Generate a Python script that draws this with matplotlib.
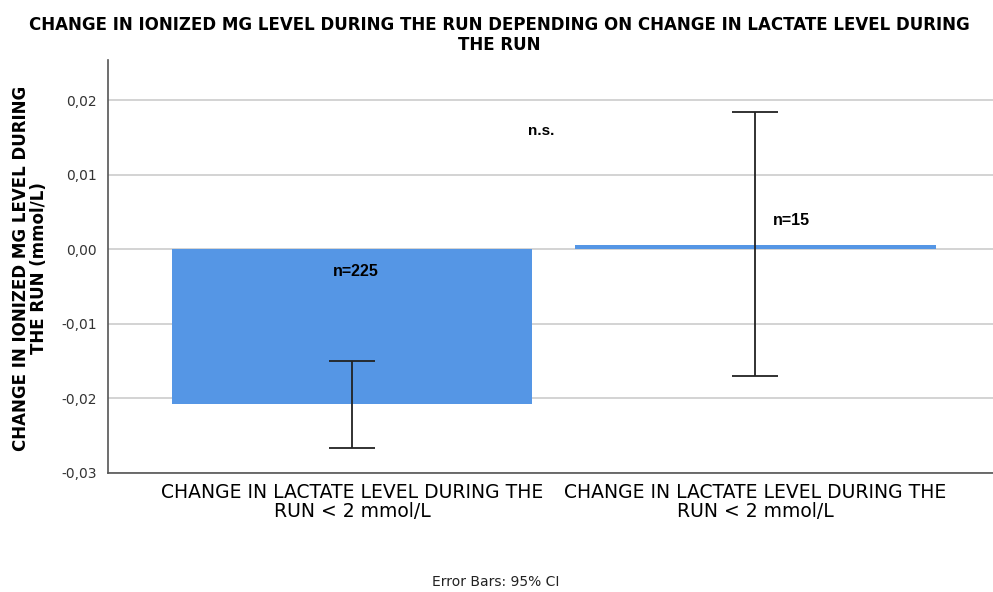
import matplotlib.pyplot as plt
from matplotlib.ticker import FuncFormatter

groups = ["CHANGE IN LACTATE LEVEL DURING THE\nRUN < 2 mmol/L",
          "CHANGE IN LACTATE LEVEL DURING THE\nRUN < 2 mmol/L"]
means = [-0.0208, 0.0006]
ci_low = [-0.0267, -0.0170]
ci_high = [-0.0150, 0.0184]
n_labels = ["n=225", "n=15"]
yticks = [-0.03, -0.02, -0.01, 0.00, 0.01, 0.02]

bar_color = "#5596e5"

fig = plt.figure(figsize=(9.93, 5.92), dpi=100)
ax = fig.add_axes([108/993, 1 - 473/592, (993 - 108)/993, (473 - 60)/592])

x = [0, 1]
ax.bar(x, means, width=0.895, color=bar_color, zorder=2)
err_lo = [m - lo for m, lo in zip(means, ci_low)]
err_hi = [hi - m for m, hi in zip(means, ci_high)]
ax.errorbar(x, means, yerr=[err_lo, err_hi], fmt="none", ecolor="#222222",
            elinewidth=1.3, capsize=16.5, capthick=1.3, zorder=3)

ax.set_xlim(-0.605, 1.59)
ax.set_ylim(-0.03, 0.0254)
ax.set_yticks(yticks)
ax.yaxis.set_major_formatter(FuncFormatter(lambda v, p: f"{v:.2f}".replace(".", ",").replace("-0,00", "0,00")))
ax.grid(axis="y", color="#cccccc", linewidth=1.2, zorder=0)
ax.set_axisbelow(True)
ax.tick_params(axis="y", length=0, labelsize=10, colors="#333333", pad=8)
ax.tick_params(axis="x", length=0, labelsize=13.5, pad=7)
ax.set_xticks(x)
ax.set_xticklabels(groups, fontfamily="DejaVu Sans", linespacing=1.0)

for s in ["top", "right"]:
    ax.spines[s].set_visible(False)
for s in ["left", "bottom"]:
    ax.spines[s].set_color("#555555")
    ax.spines[s].set_linewidth(1.2)

# annotations inside the plot
ax.text(0.01, -0.0030, n_labels[0], ha="center", va="center", fontsize=11.5,
        fontweight="bold", family="Liberation Sans")
ax.text(1.09, 0.0039, n_labels[1], ha="center", va="center", fontsize=11.5,
        fontweight="bold", family="Liberation Sans")
ax.text(0.47, 0.0159, "n.s.", ha="center", va="center", fontsize=11,
        fontweight="bold", family="Liberation Sans")

fig.text(30/993, 1 - 268/592, "CHANGE IN IONIZED MG LEVEL DURING\nTHE RUN (mmol/L)",
         rotation=90, ha="center", va="center", fontsize=12, fontweight="bold",
         linespacing=0.95)
fig.text(499/993, 1 - 35/592,
         "CHANGE IN IONIZED MG LEVEL DURING THE RUN DEPENDING ON CHANGE IN LACTATE LEVEL DURING\nTHE RUN",
         ha="center", va="center", fontsize=12, fontweight="bold", linespacing=1.15)
fig.text(496/993, 1 - 582/592, "Error Bars: 95% CI", ha="center", va="center",
         fontsize=10, color="#222222")

plt.savefig("out.png", dpi=100)
